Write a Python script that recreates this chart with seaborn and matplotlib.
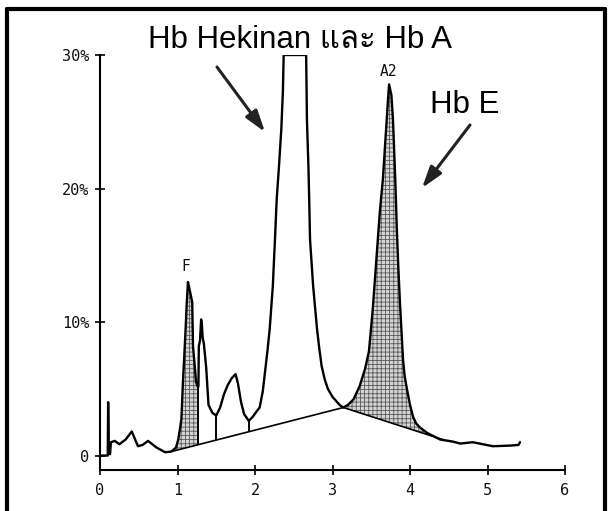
import numpy as np
import pandas as pd
import matplotlib
matplotlib.use("Agg")
import matplotlib.pyplot as plt
from matplotlib.lines import Line2D
from matplotlib import font_manager as fm
import seaborn as sns

# ---------------- data ----------------
time_min = [0.00, 0.10, 0.105, 0.115, 0.13, 0.14, 0.19, 0.25, 0.33, 0.41, 0.49, 0.55,
            0.62, 0.73, 0.84, 0.92, 0.98, 1.01, 1.05, 1.07, 1.10, 1.12, 1.135, 1.15,
            1.19, 1.20, 1.24, 1.265, 1.27, 1.275, 1.29, 1.305, 1.315, 1.325, 1.34, 1.37,
            1.40, 1.45, 1.50, 1.55, 1.60, 1.65, 1.70, 1.75, 1.78, 1.82, 1.86, 1.92,
            1.97, 2.02, 2.06, 2.10, 2.13, 2.16, 2.19, 2.23, 2.26, 2.28, 2.31, 2.34, 2.36,
            2.37, 2.66, 2.67, 2.69, 2.70, 2.71, 2.75, 2.80, 2.83, 2.86, 2.90, 2.94,
            3.00, 3.06, 3.10, 3.14,
            3.20, 3.27, 3.35, 3.42, 3.47, 3.52, 3.57, 3.61, 3.65, 3.70, 3.72, 3.73,
            3.76, 3.78, 3.81, 3.83, 3.85, 3.87, 3.91, 3.93, 3.96, 4.00, 4.04, 4.08,
            4.13, 4.22, 4.39, 4.55, 4.65, 4.81, 5.07, 5.30, 5.40, 5.42]
signal_pct = [0.0, 0.0, 4.0, 0.2, 0.1, 1.0, 1.1, 0.85, 1.2, 1.8, 0.7, 0.8,
              1.1, 0.6, 0.25, 0.3, 0.6, 1.2, 2.7, 5.5, 8.9, 11.5, 13.0, 12.6,
              11.5, 8.2, 5.5, 5.1, 5.2, 8.2, 8.6, 10.2, 9.8, 8.8, 8.4, 6.6,
              3.8, 3.2, 3.0, 3.6, 4.6, 5.3, 5.8, 6.1, 5.4, 4.0, 3.1, 2.6,
              2.9, 3.3, 3.6, 4.8, 6.3, 7.8, 9.5, 12.7, 16.5, 19.2, 21.7, 24.5, 27.3,
              30.0, 30.0, 25.2, 21.5, 19.0, 16.2, 12.7, 9.5, 8.0, 6.7, 5.7, 5.0,
              4.4, 4.0, 3.75, 3.6,
              3.8, 4.2, 5.2, 6.5, 7.8, 11.0, 15.0, 18.2, 20.7, 25.2, 27.0, 27.8,
              27.0, 25.2, 20.7, 17.0, 14.0, 11.5, 7.2, 6.0, 5.0, 3.8, 2.9, 2.4,
              2.1, 1.7, 1.2, 1.05, 0.9, 1.0, 0.7, 0.75, 0.8, 1.0]

baseline_x = [0.92, 3.14, 4.45]
baseline_y = [0.3, 3.6, 1.15]

drop_x = [1.27, 1.50, 1.92]

shade_ranges = [(0.92, 1.27), (3.14, 4.45)]

peak_labels = ["F", "A2"]
peak_label_x = [1.11, 3.72]
peak_label_y = [13.6, 28.2]

ytick_vals = [0, 10, 20, 30]
ytick_text = ["0", "10%", "20%", "30%"]
xtick_vals = [0, 1, 2, 3, 4, 5, 6]

title_text = "Hb Hekinan และ Hb A"
hbe_text = "Hb E"

# ---------------- fonts ----------------
sns.set_theme(style="white")
thai_family = None
try:
    from fontTools.ttLib import TTFont
    for f in fm.fontManager.ttflist:
        try:
            kw = {"fontNumber": 0} if f.fname.lower().endswith(".ttc") else {}
            tt = TTFont(f.fname, lazy=True, **kw)
            cm = tt.getBestCmap()
            if cm and 0x0E41 in cm and 0x0E25 in cm and 0x0E30 in cm:
                thai_family = f.name
                break
        except Exception:
            pass
except Exception:
    pass
ann_family = ["Liberation Sans"] + ([thai_family] if thai_family else []) + ["DejaVu Sans"]
plt.rcParams["font.family"] = ["DejaVu Sans Mono", "DejaVu Sans"]
plt.rcParams["hatch.linewidth"] = 0.6

# ---------------- figure ----------------
W, H = 612, 511
fig = plt.figure(figsize=(W / 100, H / 100), dpi=100)
ax = fig.add_axes([100 / W, 1 - 470 / H, 465 / W, 415 / H])

df = pd.DataFrame({"t": time_min, "s": signal_pct})
bdf = pd.DataFrame({"t": baseline_x, "s": baseline_y})

tx = np.array(time_min)
sy = np.array(signal_pct)

# shaded (hatched) peak areas between curve and baseline
for lo, hi in shade_ranges:
    m = (tx >= lo) & (tx <= hi)
    xs = tx[m]
    ax.fill_between(xs, np.interp(xs, baseline_x, baseline_y), sy[m],
                    facecolor="#d4d4d4", edgecolor="#5a5a5a", hatch="++++",
                    linewidth=0, zorder=1)

sns.lineplot(data=df, x="t", y="s", ax=ax, color="black", linewidth=1.7,
             sort=False, estimator=None, zorder=3)
sns.lineplot(data=bdf, x="t", y="s", ax=ax, color="black", linewidth=1.2,
             sort=False, estimator=None, zorder=3)

for dx in drop_x:
    ax.vlines(dx, np.interp(dx, baseline_x, baseline_y), np.interp(dx, tx, sy),
              color="black", linewidth=1.4, zorder=3)

for lab, lx, ly in zip(peak_labels, peak_label_x, peak_label_y):
    ax.text(lx, ly, lab, ha="center", va="bottom", fontsize=10.5,
            family=["DejaVu Sans Mono"], color="#111")

ax.set_xlim(0, 6)
ax.set_ylim(-1.08, 30)
ax.set_xticks(xtick_vals)
ax.set_xticklabels([str(v) for v in xtick_vals])
ax.set_yticks(ytick_vals)
ax.set_yticklabels(ytick_text)
ax.set_xlabel("")
ax.set_ylabel("")
for s in ["top", "right"]:
    ax.spines[s].set_visible(False)
for s in ["left", "bottom"]:
    ax.spines[s].set_color("black")
    ax.spines[s].set_linewidth(1.5)
ax.spines["left"].set_bounds(-1.08, 30)
ax.tick_params(axis="both", which="major", direction="inout", length=7, width=1.2,
               colors="black", labelsize=11, left=True, bottom=True)
ax.tick_params(axis="y", pad=4)
ax.tick_params(axis="x", pad=6)
for lab in ax.get_xticklabels() + ax.get_yticklabels():
    lab.set_color("#111")
ax.set_facecolor("white")
ax.grid(False)

# annotations (figure pixel coordinates, origin bottom-left)
fig.text(300 / W, 1 - 40 / H, title_text, ha="center", va="center", fontsize=22.5,
         family=ann_family, color="black")
fig.text(465 / W, 1 - 105 / H, hbe_text, ha="center", va="center", fontsize=22.5,
         family=ann_family, color="black")
arrow_kw = dict(arrowstyle="-|>,head_length=1.0,head_width=0.32", lw=2.2,
                color="#222", mutation_scale=13, shrinkA=0, shrinkB=0)
ax.annotate("", xy=(265, H - 132), xycoords="figure pixels",
            xytext=(217, H - 67), textcoords="figure pixels", arrowprops=arrow_kw)
ax.annotate("", xy=(422, H - 188), xycoords="figure pixels",
            xytext=(470, H - 125), textcoords="figure pixels", arrowprops=arrow_kw)

# frame around the picture
for xs_, ys_ in [([6.5, 6.5], [0, H - 9]), ([6.5, 605], [H - 9, H - 9]), ([605, 605], [H - 9, 0])]:
    fig.add_artist(Line2D([x / W for x in xs_], [y / H for y in ys_],
                          transform=fig.transFigure, color="black", linewidth=3))

fig.savefig("out.png", dpi=100)
